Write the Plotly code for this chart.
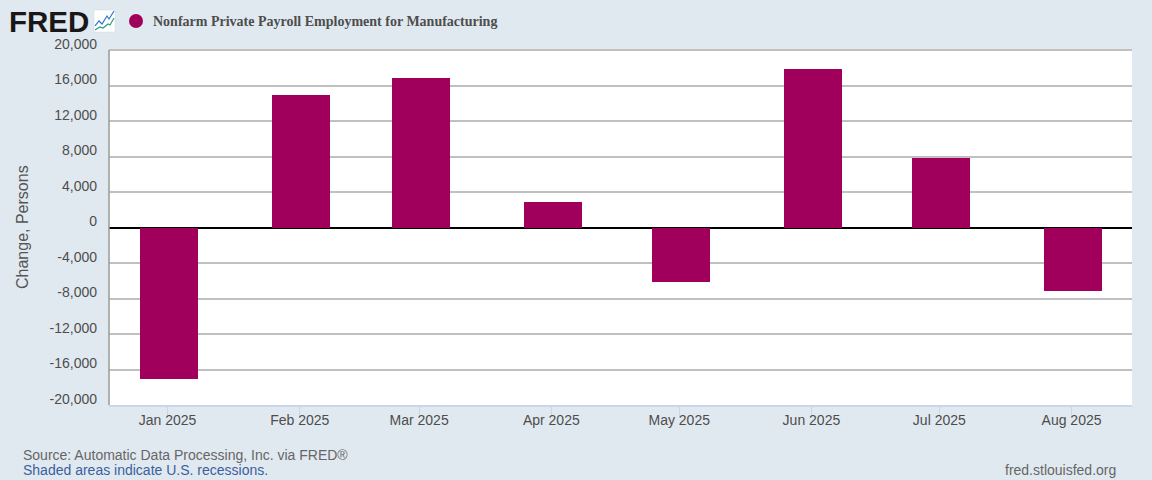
import plotly.graph_objects as go

months = ["2025-01-01", "2025-02-01", "2025-03-01", "2025-04-01", "2025-05-01", "2025-06-01", "2025-07-01", "2025-08-01"]
month_labels = ["Jan 2025", "Feb 2025", "Mar 2025", "Apr 2025", "May 2025", "Jun 2025", "Jul 2025", "Aug 2025"]
values = [-17100, 14950, 16900, 2900, -6100, 17900, 7850, -7100]
y_ticks = [20000, 16000, 12000, 8000, 4000, 0, -4000, -8000, -12000, -16000, -20000]
y_labels = ["20,000", "16,000", "12,000", "8,000", "4,000", "0", "-4,000", "-8,000", "-12,000", "-16,000", "-20,000"]
series_name = "Nonfarm Private Payroll Employment for Manufacturing"

DAY = 86400000
BG = "#e1e9f0"
BAR = "#a0005c"
TXT = "#4d4d4d"
SANS = "'Liberation Sans', Arial, sans-serif"
SERIF = "'Liberation Serif', 'Times New Roman', serif"
bar_w = 13.6 * DAY

fig = go.Figure(go.Bar(x=months, y=values, name=series_name, marker=dict(color=BAR, line=dict(width=0)),
                       width=bar_w, offset=-bar_w / 2 + 0.35 * DAY, hoverinfo="x+y"))

def px(x): return (x - 109) / 1023
def py(y): return (405 - y) / 355
def pl(pts, color):
    path = "M " + " L ".join(f"{px(a):.5f},{py(b):.5f}" for a, b in pts)
    return dict(type="path", xref="paper", yref="paper", path=path, line=dict(color=color, width=1.2), layer="above")

shapes = [
    dict(type="line", xref="paper", yref="paper", x0=0, x1=1, y0=1, y1=1, line=dict(color="#c0c0c0", width=2), layer="above"),
    dict(type="line", xref="paper", yref="paper", x0=0, x1=0, y0=0, y1=1, line=dict(color="#999999", width=1.5), layer="above"),
    dict(type="circle", xref="paper", yref="paper", x0=px(129), x1=px(143), y0=py(28), y1=py(14), fillcolor=BAR, line_width=0, layer="above"),
    dict(type="rect", xref="paper", yref="paper", x0=px(94), x1=px(115), y0=py(32), y1=py(10),
         fillcolor="#ffffff", line=dict(color="#d0d8de", width=0.5), layer="above"),
    pl([(95, 26), (99, 21), (102, 24), (107, 16), (109, 19), (114, 11)], "#2a77d6"),
    pl([(95, 30), (100, 27), (103, 28), (108, 24), (110, 25), (114, 18)], "#2aa07c"),
]

def note(text, x, y, anchor, family, size, color, angle=0):
    return dict(text=text, xref="paper", yref="paper", x=px(x), y=py(y), xanchor=anchor, yanchor="middle", textangle=angle,
                showarrow=False, borderpad=0, font=dict(family=family, size=size, color=color))

annotations = [
    note(f"<b>{series_name}</b>", 152, 21, "left", SERIF, 14, TXT),
    note("<b>FRED</b>", 7.5, 21, "left", SANS, 29.5, "#1a1718"),
    note("Source: Automatic Data Processing, Inc. via FRED®", 22, 455, "left", SANS, 14, "#666666"),
    note("Shaded areas indicate U.S. recessions.", 22, 470, "left", SANS, 14, "#3a5f9e"),
    note("fred.stlouisfed.org", 1117, 470, "right", SANS, 14, "#666666"),
    note("Change, Persons", 22, 227, "center", SANS, 16, "#555555", -90),
]

fig.update_layout(
    width=1152, height=480, autosize=False, showlegend=False, bargap=0,
    margin=dict(l=109, r=20, t=50, b=75, pad=0),
    paper_bgcolor=BG, plot_bgcolor="#ffffff",
    font=dict(family=SANS, size=14, color=TXT),
    shapes=shapes, annotations=annotations,
    xaxis=dict(type="date", range=["2024-12-18 06:40", "2025-08-15 04:20"], tickmode="array", tickvals=months, ticktext=month_labels,
               ticks="outside", ticklen=10, tickwidth=1, tickcolor="#ccd6eb", ticklabelstandoff=-9, showgrid=False, zeroline=False,
               showline=True, linecolor="#ccd6eb", linewidth=1.5,
               tickfont=dict(family=SANS, size=14, color=TXT)),
    yaxis=dict(range=[-20000, 20000], tickmode="array", tickvals=y_ticks, ticktext=y_labels, ticks="", ticklabelstandoff=11,
               ticklabelshift=-6, showgrid=True, gridcolor="#c0c0c0", gridwidth=2, zeroline=True, zerolinecolor="#000000", zerolinewidth=2,
               showline=False,
               tickfont=dict(family=SANS, size=14, color=TXT)),
)
fig.write_html("out.html", config={"displayModeBar": False},
               post_script="document.body.style.margin='0';document.body.style.background='#e1e9f0';document.documentElement.style.overflow='hidden';")
